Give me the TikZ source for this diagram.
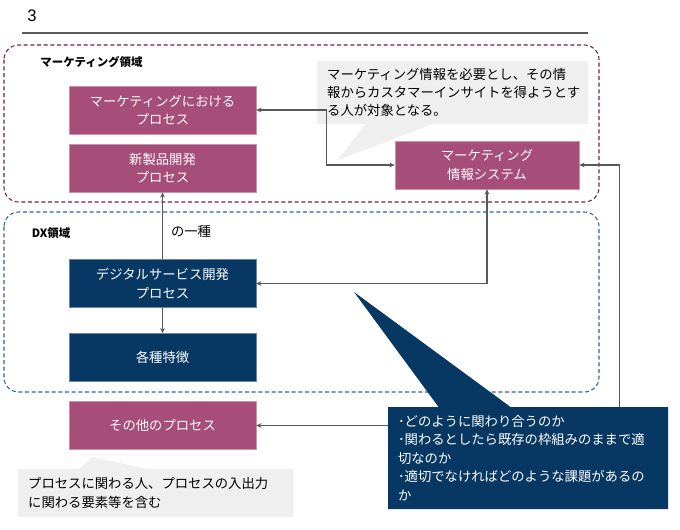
\documentclass[tikz,border=0pt]{standalone}
\usepackage{fontspec}
\setmainfont{Noto Sans CJK JP}
\newfontfamily\latinfont{Liberation Sans}
\usetikzlibrary{arrows.meta, positioning, shapes.callouts}
\definecolor{MkMagenta}{HTML}{A64D79}
\definecolor{MkBorder}{HTML}{741B47}
\definecolor{DXNavy}{HTML}{073763}
\definecolor{DXBorder}{HTML}{2B62A0}
\definecolor{NoteGray}{HTML}{EFEFEF}
\definecolor{LineGray}{HTML}{595959}

\begin{document}
\begin{tikzpicture}[
  x=0.75pt, y=-0.75pt,
  every node/.style={font=\fontsize{10pt}{13.8pt}\selectfont},
  procbox/.style={fill=MkMagenta, draw=MkMagenta!60!white, text=white,
                  align=center, minimum width=140pt, minimum height=36pt,
                  inner sep=0pt},
  dxbox/.style={procbox, fill=DXNavy, draw=DXNavy!60!white},
  zone/.style={dashed, dash pattern=on 3pt off 2pt, line width=0.8pt,
               rounded corners=11pt},
  zonelabel/.style={font=\bfseries\fontsize{8.6pt}{10pt}\selectfont},
  note/.style={rectangle callout, fill=NoteGray, align=left,
               inner xsep=7.5pt, inner ysep=0pt},
  arr/.style={line width=0.8pt, draw=LineGray,
              -{Stealth[length=4pt, width=3.5pt]}},
  biarr/.style={arr, {Stealth[length=4pt, width=3.5pt]}-{Stealth[length=4pt, width=3.5pt]}}
]
  \useasboundingbox (0,0) rectangle (680,529);

  %% Page number and rule
  \node[font=\latinfont\fontsize{12.5pt}{14pt}\selectfont] (pagenum) at (32,16) {3};
  \draw[LineGray, line width=0.8pt] (22,33) -- (588,33);

  %% Zones
  \draw[zone, draw=MkBorder] (4,45) rectangle (599,202);
  \draw[zone, draw=DXBorder] (4,212) rectangle (599,392);
  \node[zonelabel] (mklabel) at (91.5,62) {マーケティング領域};
  \node[zonelabel] (dxlabel) at (51,233) {DX領域};

  %% Marketing zone
  \node[procbox] (mkproc)  at (162.5,110)   {マーケティングにおける\\プロセス};
  \node[procbox] (newprod) at (162.5,168)   {新製品開発\\プロセス};
  \node[procbox, minimum width=138pt] (mis) at (487,165) {マーケティング\\情報システム};
  \node[note, minimum width=203pt, minimum height=47pt, text width=188pt,
        callout absolute pointer={(338,160)}, callout pointer width=51pt]
        (mknote) at (452.5,92.5)
        {マーケティング情報を必要とし、その情\\報からカスタマーインサイトを得ようとす\\る人が対象となる。};

  %% DX zone
  \node[dxbox] (dxproc) at (162.5,283.5) {デジタルサービス開発\\プロセス};
  \node[dxbox] (traits) at (162.5,357.5) {各種特徴};
  \node (kind) at (191,231) {の一種};

  %% Outside
  \node[procbox] (other) at (162.5,425.5) {その他のプロセス};
  \node[note, minimum width=206pt, minimum height=36pt, text width=191pt,
        callout absolute pointer={(92,457)}, callout pointer width=51pt]
        (othernote) at (155.5,493)
        {プロセスに関わる人、プロセスの入出力\\に関わる要素等を含む};
  \node[note, fill=DXNavy, text=white, minimum width=210pt, minimum height=76.5pt,
        text width=195pt, callout absolute pointer={(354,292)},
        callout pointer width=54pt]
        (issues) at (528,458)
        {･どのように関わり合うのか\\･関わるとしたら既存の枠組みのままで適\\切なのか\\･適切でなければどのような課題があるの\\か};

  %% Connectors
  \draw[biarr] (mkproc.east) -- ++(70,0) |- (mis.west);
  \draw[arr] (dxproc.north) -- (newprod.south);
  \draw[biarr] (dxproc.east) -| (mis.south);
  \draw[arr] (dxproc.south) -- (traits.north);
  \draw[arr] (issues.north east) ++(-49,0) |- (mis.east);
  \draw[arr] (issues.west |- other.east) -- (other.east);
\end{tikzpicture}
\end{document}
